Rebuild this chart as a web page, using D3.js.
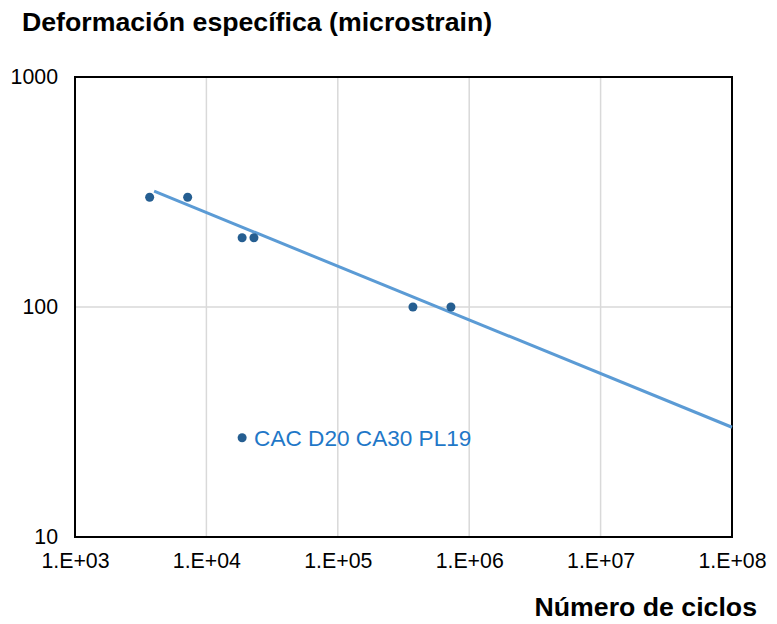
<!DOCTYPE html>
<html><head><meta charset="utf-8">
<script src="https://cdn.jsdelivr.net/npm/d3@7"></script>
<style>body{margin:0;background:#fff;} svg{display:block;}</style>
</head><body>
<script>
const cycles = [3700, 7200, 18700, 23000, 373000, 726000];
const strain = [300, 300, 200, 200, 100, 100];
const trendCycles = [4000, 1e8];
const trendStrain = [319, 30];
const xTicks = [1e3, 1e4, 1e5, 1e6, 1e7, 1e8];
const xTickLabels = ["1.E+03","1.E+04","1.E+05","1.E+06","1.E+07","1.E+08"];
const yTicks = [10, 100, 1000];
const yTickLabels = ["10","100","1000"];
const seriesName = "CAC D20 CA30 PL19";
const legendPoint = [18700, 27];

const W = 777, H = 624;
const m = {left: 75, right: 45, top: 77, bottom: 87};
const FONT = "'Liberation Sans', Arial, sans-serif";
const svg = d3.select("body").append("svg").attr("width", W).attr("height", H)
  .style("font-family", FONT);

const x = d3.scaleLog().domain([1e3, 1e8]).range([m.left, W - m.right]);
const y = d3.scaleLog().domain([10, 1000]).range([H - m.bottom, m.top]);

// gridlines
svg.append("g").selectAll("line").data(xTicks.slice(1, -1)).join("line")
  .attr("x1", d => x(d)).attr("x2", d => x(d)).attr("y1", y(10)).attr("y2", y(1000))
  .attr("stroke", "#d9d9d9").attr("stroke-width", 1.5);
svg.append("g").selectAll("line").data(yTicks.slice(1, -1)).join("line")
  .attr("x1", x(1e3)).attr("x2", x(1e8)).attr("y1", d => y(d)).attr("y2", d => y(d))
  .attr("stroke", "#d9d9d9").attr("stroke-width", 1.5);

// axes
const xAxis = d3.axisBottom(x).tickValues(xTicks).tickFormat((d, i) => xTickLabels[i]).tickSize(0).tickPadding(16);
const gx = svg.append("g").attr("transform", `translate(0,${y(10)})`).call(xAxis);
gx.select(".domain").remove();
gx.selectAll("text").attr("font-size", 21.3).attr("fill", "#000").style("font-family", FONT);

const yAxis = d3.axisLeft(y).tickValues(yTicks).tickFormat((d, i) => yTickLabels[i]).tickSize(0).tickPadding(17);
const gy = svg.append("g").attr("transform", `translate(${x(1e3)},0)`).call(yAxis);
gy.select(".domain").remove();
gy.selectAll("text").attr("font-size", 21.3).attr("fill", "#000").style("font-family", FONT);

// frame
svg.append("rect").attr("x", x(1e3)).attr("y", y(1000))
  .attr("width", x(1e8) - x(1e3)).attr("height", y(10) - y(1000))
  .attr("fill", "none").attr("stroke", "#000").attr("stroke-width", 2);

// trendline
svg.append("path")
  .datum(trendCycles.map((c, i) => [c, trendStrain[i]]))
  .attr("d", d3.line().x(d => x(d[0])).y(d => y(d[1])))
  .attr("stroke", "#5B9BD5").attr("stroke-width", 3).attr("fill", "none");

// points
svg.append("g").selectAll("circle").data(cycles.map((c, i) => [c, strain[i]])).join("circle")
  .attr("cx", d => x(d[0])).attr("cy", d => y(d[1])).attr("r", 4.5).attr("fill", "#255E91");

// legend
svg.append("circle").attr("cx", x(legendPoint[0])).attr("cy", y(legendPoint[1])).attr("r", 4.5).attr("fill", "#255E91");
svg.append("text").attr("x", x(legendPoint[0]) + 12).attr("y", y(legendPoint[1]) + 8)
  .attr("font-size", 22.6).attr("fill", "#1F78C8").text(seriesName);

// titles
svg.append("text").attr("x", 22).attr("y", 31).attr("font-size", 26.7).attr("font-weight", "bold")
  .attr("fill", "#000").text("Deformación específica (microstrain)");
svg.append("text").attr("x", 757).attr("y", 616).attr("text-anchor", "end").attr("font-size", 26.7)
  .attr("font-weight", "bold").attr("fill", "#000").text("Número de ciclos");
</script>
</body></html>
